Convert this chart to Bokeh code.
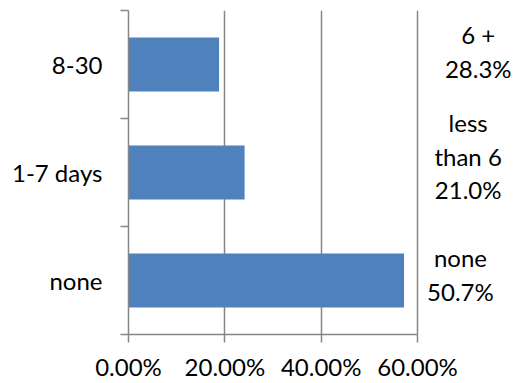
from bokeh.plotting import figure
from bokeh.models import Range1d, FixedTicker, NumeralTickFormatter, ColumnDataSource
from bokeh.core.properties import value
from bokeh.embed import file_html
from bokeh.resources import INLINE

# Share of respondents per category (bottom to top)
categories = ["none", "1-7 days", "8-30"]
shares = [0.572, 0.241, 0.188]
x_ticks = [0.0, 0.2, 0.4, 0.6]
notes = ["none\n50.7%", "less\nthan 6\n21.0%", "6 +\n28.3%"]

FONT = "Lato"
GRAY = "#868686"
BLUE = "#4F81BD"

n = len(categories)
centers = [i + 0.5 for i in range(n)]
bounds = [float(i) for i in range(n + 1)]
src = ColumnDataSource(dict(y=centers, right=shares))

# the frame runs to the right edge so the side notes have room;
# axis and grid stop at 60%
p = figure(width=524, height=383, output_backend="svg", toolbar_location=None,
           x_range=Range1d(0, 0.822), y_range=Range1d(0, n),
           min_border_left=128, min_border_right=0,
           min_border_top=10, min_border_bottom=49)
p.outline_line_color = None
p.background_fill_color = "white"

p.hbar(y="y", left=0, right="right", height=0.5, source=src,
       fill_color=BLUE, line_color=None)

# x axis: percentages with outward ticks
xa = p.xaxis[0]
xa.bounds = (0, 0.6)
xa.ticker = FixedTicker(ticks=x_ticks, minor_ticks=[])
xa.formatter = NumeralTickFormatter(format="0.00%")
xa.axis_line_color = GRAY
xa.axis_line_width = 1.5
xa.major_tick_line_color = GRAY
xa.major_tick_line_width = 1.5
xa.major_tick_in = 0
xa.major_tick_out = 8
xa.minor_tick_line_color = None
xa.major_label_standoff = 9
xa.major_label_text_font = FONT
xa.major_label_text_font_size = "24px"
xa.major_label_text_color = "black"

# y axis: labels at band centers, tick marks at band boundaries
ya = p.yaxis[0]
ya.ticker = FixedTicker(ticks=centers, minor_ticks=bounds)
ya.major_label_overrides = {c: cat for c, cat in zip(centers, categories)}
ya.axis_line_color = GRAY
ya.axis_line_width = 1.5
ya.major_tick_line_color = None
ya.major_tick_in = 0
ya.major_tick_out = 0
ya.minor_tick_line_color = GRAY
ya.minor_tick_line_width = 1.5
ya.minor_tick_in = 0
ya.minor_tick_out = 8
ya.major_label_standoff = 18
ya.major_label_text_font = FONT
ya.major_label_text_font_size = "24px"
ya.major_label_text_color = "black"

p.xgrid.grid_line_color = GRAY
p.xgrid.grid_line_width = 1.5
p.ygrid.visible = False

# Side notes to the right of the plot area (centre positions in data units)
note_x = [0.689, 0.705, 0.726]
note_y = [0.555, 1.65, 2.62]
p.text(x=note_x, y=note_y, text=notes, text_align="center",
       text_baseline="middle", text_font=value(FONT), text_font_size="24px",
       text_line_height=1.15, text_color="black")

open("out.html", "w").write(file_html(p, INLINE))
